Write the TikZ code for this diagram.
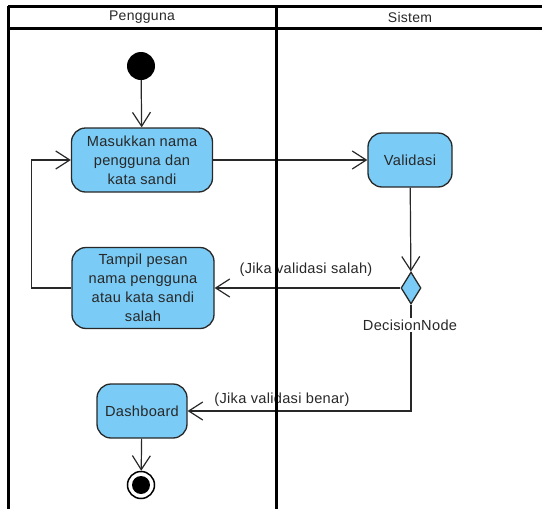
\documentclass[tikz,border=0pt]{standalone}
\usepackage{fontspec}
\setmainfont{Liberation Sans}[LetterSpace=2]
\usetikzlibrary{arrows.meta,shapes.geometric}
\definecolor{actfill}{RGB}{122,203,245}
\definecolor{ink}{RGB}{40,40,40}
\begin{document}
\begin{tikzpicture}[x=1pt,y=-1pt,
  font=\fontsize{14.6}{19}\selectfont,
  action/.style={draw=ink,line width=1.3pt,fill=actfill,rounded corners=14pt,
    align=center,inner sep=0pt,text=ink},
  arr/.style={draw=ink,line width=1.2pt,-{Straight Barb[length=14pt,width=18pt,line width=1.2pt]}},
  lane/.style={draw=black,line width=3pt},
  lbl/.style={text=ink,inner sep=1pt}]
\useasboundingbox (0,0) rectangle (542,509);

% start node
\node[circle,fill=black,minimum size=28pt,inner sep=0pt] (init) at (141,66) {};

% actions
\node[action,minimum width=141pt,minimum height=64pt] (mas) at (142,160)
  {Masukkan nama\\pengguna dan\\kata sandi};
\node[action,minimum width=84pt,minimum height=54pt] (val) at (410,160) {Validasi};
\node[action,minimum width=142pt,minimum height=81pt] (tam) at (143,288)
  {Tampil pesan\\nama pengguna\\atau kata sandi\\salah};
\node[action,minimum width=90pt,minimum height=54pt] (dash) at (142,411) {Dashboard};

% decision
\node[diamond,draw=ink,line width=1.3pt,fill=actfill,minimum width=20pt,
  minimum height=32pt,inner sep=0pt] (dec) at (411,288) {};

% final node
\node[circle,draw=black,line width=1.5pt,fill=white,minimum size=27pt,inner sep=0pt] (fin) at (141,485) {};
\node[circle,fill=black,minimum size=18pt,inner sep=0pt] (finc) at (fin.center) {};

% flows
\draw[arr] (init) -- (mas);
\draw[arr] (mas) -- (val);
\draw[arr] (val) -- (dec);
\draw[arr] (dec.west) -- (dec.west -| tam.east);
\draw[arr] (tam.west) -- ++(-40,0) |- (mas.west);
\draw[arr] (dec.south) |- (dash.east);
\draw[arr] (dash) -- (fin);

% labels
\node[lbl,fill=white,inner sep=2pt] (decl) at (410,325) {DecisionNode};
\node[lbl] (gs) at (306,270) {(Jika validasi salah)};
\node[lbl] (gb) at (282,400) {(Jika validasi benar)};

% swimlanes
\node[text=ink,font=\fontsize{14}{16}\selectfont] (hp) at (142,17) {Pengguna};
\node[text=ink,font=\fontsize{14}{16}\selectfont] (hs) at (410,17) {Sistem};
\draw[lane] (8,6) -- (542,6);
\draw[lane] (8,28) -- (542,28);
\draw[lane] (8,6) -- (8,509);
\draw[lane] (276,6) -- (276,509);
\end{tikzpicture}
\end{document}
